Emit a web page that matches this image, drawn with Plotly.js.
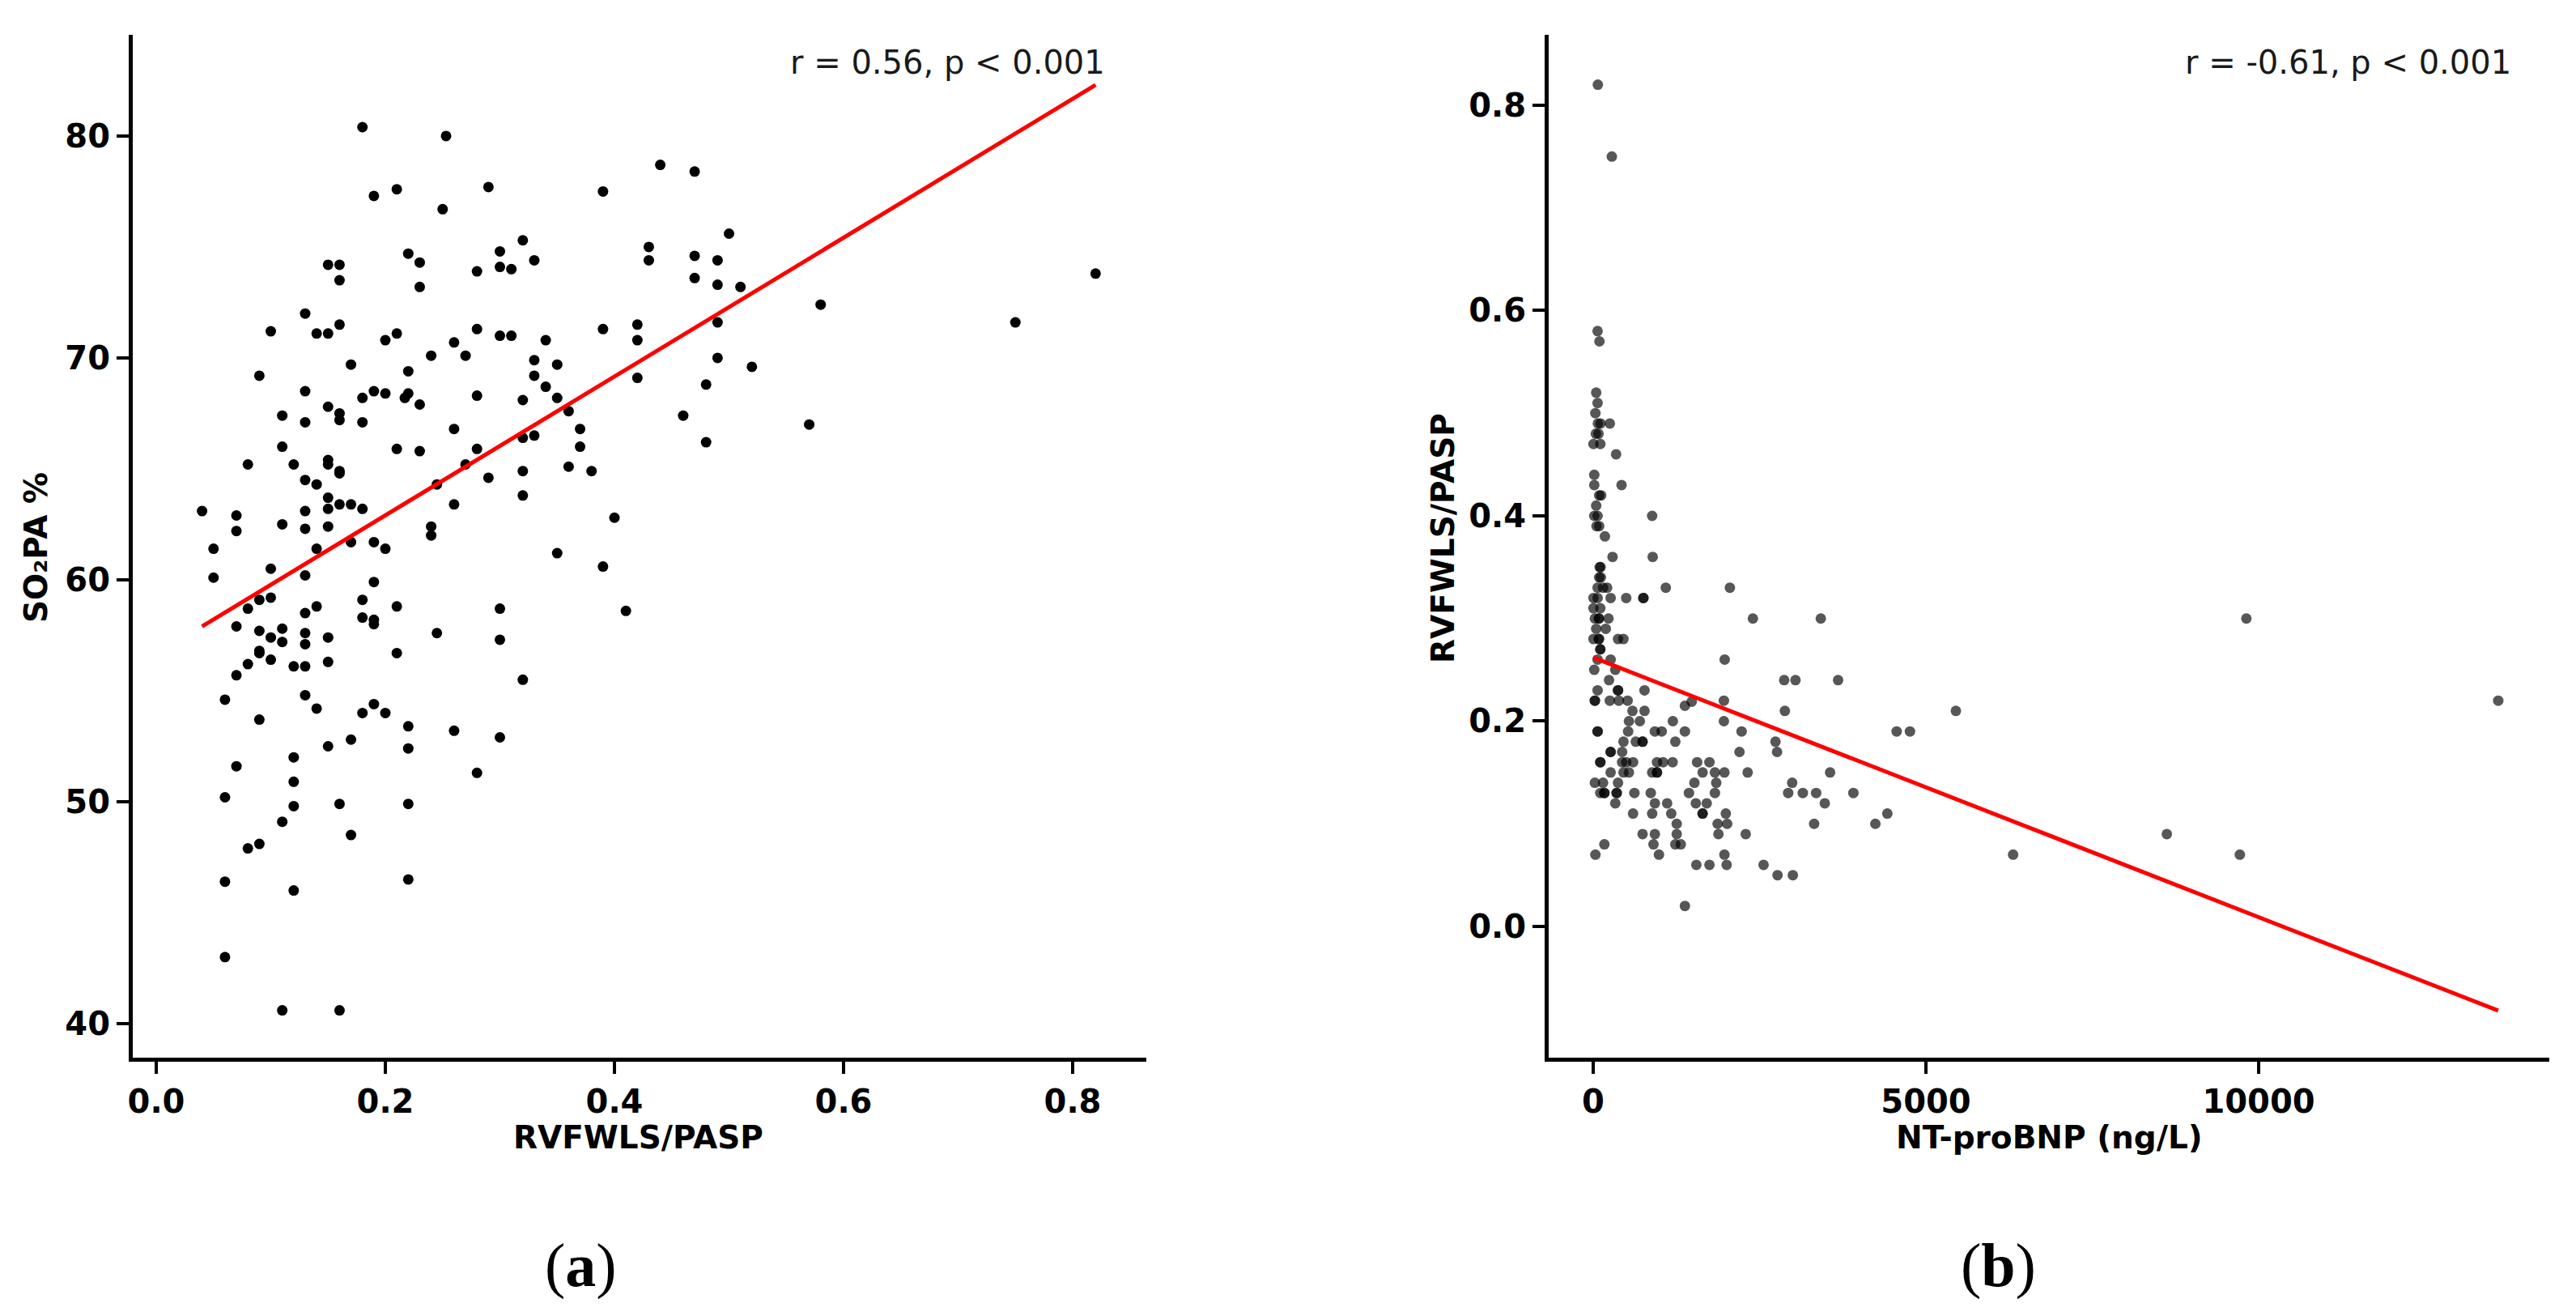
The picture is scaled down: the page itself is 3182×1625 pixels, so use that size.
<!DOCTYPE html>
<html>
<head>
<meta charset="utf-8">
<script src="https://cdn.plot.ly/plotly-3.0.1.min.js"></script>
<style>
  html, body { margin: 0; padding: 0; background: #fff; }
  #chart { width: 3182px; height: 1625px; }
</style>
</head>
<body>
<div id="chart"></div>
<script>
// panel (a): RVFWLS/PASP vs SO2PA %
const ratioA = [
  0.18, 0.253, 0.44, 0.47, 0.29, 0.21, 0.19, 0.39, 0.25, 0.50,
  0.32, 0.43, 0.30, 0.22, 0.47, 0.33, 0.49, 0.43, 0.23, 0.15,
  0.16, 0.30, 0.31, 0.28, 0.82, 0.47, 0.16, 0.49, 0.23, 0.51,
  0.13, 0.58, 0.75, 0.49, 0.16, 0.42, 0.10, 0.14, 0.15, 0.21,
  0.28, 0.39, 0.30, 0.31, 0.20, 0.42, 0.34, 0.26, 0.27, 0.24,
  0.49, 0.33, 0.17, 0.35, 0.52, 0.22, 0.09, 0.33, 0.42, 0.48,
  0.34, 0.13, 0.19, 0.20, 0.22, 0.217, 0.18, 0.28, 0.35, 0.32,
  0.23, 0.36, 0.16, 0.46, 0.11, 0.15, 0.16, 0.13, 0.18, 0.57,
  0.37, 0.26, 0.33, 0.32, 0.48, 0.11, 0.37, 0.21, 0.28, 0.23,
  0.15, 0.12, 0.08, 0.15, 0.27, 0.36, 0.16, 0.16, 0.32, 0.38,
  0.29, 0.13, 0.14, 0.245, 0.32, 0.15, 0.16, 0.17, 0.26, 0.15,
  0.18, 0.13, 0.04, 0.07, 0.40, 0.11, 0.24, 0.15, 0.07, 0.13,
  0.24, 0.17, 0.19, 0.05, 0.14, 0.20, 0.35, 0.10, 0.39, 0.05,
  0.13, 0.19, 0.10, 0.09, 0.18, 0.14, 0.08, 0.21, 0.30, 0.41,
  0.13, 0.18, 0.19, 0.19, 0.07, 0.11, 0.09, 0.13, 0.245, 0.10,
  0.15, 0.30, 0.11, 0.13, 0.09, 0.09, 0.21, 0.08, 0.10, 0.12,
  0.13, 0.15, 0.07, 0.32, 0.13, 0.06, 0.14, 0.19, 0.18, 0.20,
  0.09, 0.22, 0.26, 0.30, 0.17, 0.15, 0.22, 0.12, 0.07, 0.28,
  0.12, 0.06, 0.12, 0.16, 0.22, 0.11, 0.17, 0.09, 0.08, 0.22,
  0.06, 0.12, 0.06, 0.11, 0.16
];
const so2pa = [
  80.4, 80.0, 78.7, 78.4, 77.7, 77.6, 77.3, 77.5, 76.7, 75.6,
  75.3, 75.0, 74.8, 74.7, 74.6, 74.4, 74.4, 74.4, 74.3, 74.2,
  74.2, 74.1, 74.0, 73.9, 73.8, 73.6, 73.5, 73.3, 73.2, 73.2,
  72.0, 72.4, 71.6, 71.6, 71.5, 71.5, 71.2, 71.1, 71.1, 71.1,
  71.3, 71.3, 71.0, 71.0, 70.8, 70.8, 70.8, 70.7, 70.1, 70.1,
  70.0, 69.9, 69.7, 69.7, 69.6, 69.4, 69.2, 69.2, 69.1, 68.8,
  68.7, 68.5, 68.5, 68.4, 68.4, 68.2, 68.2, 68.3, 68.2, 68.1,
  67.9, 67.6, 67.5, 67.4, 67.4, 67.8, 67.2, 67.1, 67.1, 67.0,
  66.8, 66.8, 66.5, 66.4, 66.2, 66.0, 66.0, 65.9, 65.9, 65.8,
  65.4, 65.2, 65.2, 65.2, 65.2, 65.1, 64.9, 64.8, 64.9, 64.9,
  64.6, 64.5, 64.3, 64.3, 63.8, 63.7, 63.4, 63.4, 63.4, 63.2,
  63.2, 63.1, 63.1, 62.9, 62.8, 62.5, 62.4, 62.4, 62.2, 62.3,
  62.0, 61.7, 61.7, 61.4, 61.4, 61.4, 61.2, 60.5, 60.6, 60.1,
  60.2, 59.9, 59.2, 59.1, 59.1, 58.8, 58.7, 58.8, 58.7, 58.6,
  58.5, 58.3, 58.2, 58.0, 57.9, 57.8, 57.7, 57.6, 57.6, 57.4,
  57.4, 57.3, 57.2, 57.1, 56.8, 56.7, 56.7, 56.2, 56.4, 56.1,
  56.1, 56.3, 55.7, 55.5, 54.8, 54.6, 54.2, 54.4, 54.0, 54.0,
  53.7, 53.4, 53.2, 52.9, 52.8, 52.5, 52.4, 52.0, 51.6, 51.3,
  50.9, 50.2, 49.8, 49.9, 49.9, 49.1, 48.5, 48.1, 47.9, 46.5,
  46.4, 46.0, 43.0, 40.6, 40.6
];
const fitAx = [0.04, 0.82];
const fitAy = [57.9, 82.3];

// panel (b): NT-proBNP vs RVFWLS/PASP
const ntprobnp = [
  70, 280, 66, 94, 45, 66, 33, 70, 110, 250,
  40, 80, 4, 107, 344, 16, 16, 426, 90, 120,
  45, 16, 66, 886, 50, 90, 176, 291, 894, 98,
  110, 115, 90, 66, 148, 209, 1091, 2054, 4, 66,
  262, 496, 754, 754, 4, 107, 25, 86, 86, 230,
  2400, 3420, 9815, 45, 189, 4, 86, 86, 373, 455,
  107, 107, 66, 262, 1976, 16, 332, 238, 2870, 3040,
  3680, 66, 373, 373, 771, 25, 25, 250, 385, 517,
  1964, 13600, 1378, 1480, 590, 771, 2880, 5450, 537, 701,
  1197, 1964, 66, 66, 525, 927, 1029, 1378, 2230, 4560,
  4760, 455, 640, 742, 742, 1234, 2739, 262, 262, 435,
  2198, 2763, 107, 107, 435, 496, 599, 959, 1050, 1193,
  1562, 1747, 262, 455, 537, 886, 959, 959, 1644, 1829,
  1972, 2321, 3560, 25, 148, 373, 1521, 1849, 2990, 107,
  168, 168, 353, 353, 619, 865, 1439, 1829, 2930, 3150,
  3350, 3910, 332, 927, 1111, 1542, 1706, 3480, 599, 886,
  1173, 1644, 1644, 1993, 4420, 1255, 1870, 2013, 3320, 4240,
  742, 927, 1255, 1882, 2292, 8620, 168, 906, 1234, 1316,
  33, 988, 1972, 6310, 9717, 1550, 1747, 2005, 2560, 2770,
  3000, 1378
];
const ratioB = [
  0.82, 0.75, 0.58, 0.57, 0.52, 0.51, 0.50, 0.49, 0.49, 0.49,
  0.48, 0.48, 0.47, 0.47, 0.46, 0.44, 0.43, 0.43, 0.42, 0.42,
  0.41, 0.40, 0.40, 0.40, 0.39, 0.39, 0.38, 0.36, 0.36, 0.35,
  0.35, 0.34, 0.34, 0.33, 0.33, 0.33, 0.33, 0.33, 0.32, 0.32,
  0.32, 0.32, 0.32, 0.32, 0.31, 0.31, 0.30, 0.30, 0.30, 0.30,
  0.30, 0.30, 0.30, 0.29, 0.29, 0.28, 0.28, 0.28, 0.28, 0.28,
  0.27, 0.27, 0.26, 0.26, 0.26, 0.25, 0.25, 0.24, 0.24, 0.24,
  0.24, 0.23, 0.23, 0.23, 0.23, 0.22, 0.22, 0.22, 0.22, 0.22,
  0.22, 0.22, 0.215, 0.219, 0.21, 0.21, 0.21, 0.21, 0.20, 0.20,
  0.20, 0.20, 0.19, 0.19, 0.19, 0.19, 0.19, 0.19, 0.19, 0.19,
  0.19, 0.18, 0.18, 0.18, 0.18, 0.18, 0.18, 0.17, 0.17, 0.17,
  0.17, 0.17, 0.16, 0.16, 0.16, 0.16, 0.16, 0.16, 0.16, 0.16,
  0.16, 0.16, 0.15, 0.15, 0.15, 0.15, 0.15, 0.15, 0.15, 0.15,
  0.15, 0.15, 0.15, 0.14, 0.14, 0.14, 0.14, 0.14, 0.14, 0.13,
  0.13, 0.13, 0.13, 0.13, 0.13, 0.13, 0.13, 0.13, 0.13, 0.13,
  0.13, 0.13, 0.12, 0.12, 0.12, 0.12, 0.12, 0.12, 0.11, 0.11,
  0.11, 0.11, 0.11, 0.11, 0.11, 0.10, 0.10, 0.10, 0.10, 0.10,
  0.09, 0.09, 0.09, 0.09, 0.09, 0.09, 0.08, 0.08, 0.08, 0.08,
  0.07, 0.07, 0.07, 0.07, 0.07, 0.06, 0.06, 0.06, 0.06, 0.05,
  0.05, 0.02
];
const fitBx = [0, 13600];
const fitBy = [0.262, -0.082];

const TICK_FONT = {family: "DejaVu Sans", size: 40, color: "#000", weight: "bold"};
const TITLE_FONT = {family: "DejaVu Sans", size: 39, color: "#000", weight: "bold"};
const NOTE_FONT = {family: "DejaVu Sans", size: 40, color: "#1a1a1a"};
const PANEL_FONT = {family: "Liberation Serif", size: 76, color: "#000"};

const traces = [
  {
    x: ratioA, y: so2pa, type: "scatter", mode: "markers",
    marker: {size: 13, color: "#000"},
    xaxis: "x", yaxis: "y", hoverinfo: "x+y"
  },
  {
    x: fitAx, y: fitAy, type: "scatter", mode: "lines",
    line: {color: "#ff0000", width: 5},
    xaxis: "x", yaxis: "y", hoverinfo: "skip"
  },
  {
    x: ntprobnp, y: ratioB, type: "scatter", mode: "markers",
    marker: {size: 13, color: "#000", opacity: 0.66},
    xaxis: "x2", yaxis: "y2", hoverinfo: "x+y"
  },
  {
    x: fitBx, y: fitBy, type: "scatter", mode: "lines",
    line: {color: "#ff0000", width: 5},
    xaxis: "x2", yaxis: "y2", hoverinfo: "skip"
  }
];

// common look of the axes: only left/bottom spines, outside ticks
function axisStyle(extra) {
  return Object.assign({
    showline: true, linecolor: "#000", linewidth: 5,
    showgrid: false, zeroline: false,
    ticks: "outside", ticklen: 15, tickwidth: 4, tickcolor: "#000",
    tickfont: TICK_FONT, fixedrange: true
  }, extra);
}

const W = 3182, H = 1625;
const px = v => v / W;          // pixel -> paper x
const py = v => 1 - v / H;      // pixel -> paper y

const layout = {
  width: W, height: H,
  margin: {l: 0, r: 0, t: 0, b: 0},
  paper_bgcolor: "#fff", plot_bgcolor: "#fff",
  showlegend: false,
  xaxis: axisStyle({
    domain: [px(164), px(1416)], range: [-0.0205, 0.8643],
    tickvals: [0, 0.2, 0.4, 0.6, 0.8], tickformat: ".1f", anchor: "y"
  }),
  yaxis: axisStyle({
    domain: [py(1306), py(43)], range: [38.467, 84.56],
    tickvals: [40, 50, 60, 70, 80], anchor: "x"
  }),
  xaxis2: axisStyle({
    domain: [px(1913), px(3149)], range: [-669, 14367],
    tickvals: [0, 5000, 10000], tickformat: "d", anchor: "y2"
  }),
  yaxis2: axisStyle({
    domain: [py(1306), py(43)], range: [-0.1278, 0.8686],
    tickvals: [0, 0.2, 0.4, 0.6, 0.8], tickformat: ".1f", anchor: "x2"
  }),
  annotations: [
    {text: "r = 0.56, p < 0.001", xref: "paper", yref: "paper",
     x: px(1367), y: py(77), xanchor: "right", yanchor: "middle",
     showarrow: false, font: NOTE_FONT},
    {text: "r = -0.61, p < 0.001", xref: "paper", yref: "paper",
     x: px(3104), y: py(77), xanchor: "right", yanchor: "middle",
     showarrow: false, font: NOTE_FONT},
    {text: "RVFWLS/PASP", xref: "paper", yref: "paper",
     x: px(788), y: py(1404), xanchor: "center", yanchor: "middle",
     showarrow: false, font: TITLE_FONT},
    {text: "NT-proBNP (ng/L)", xref: "paper", yref: "paper",
     x: px(2531), y: py(1404), xanchor: "center", yanchor: "middle",
     showarrow: false, font: TITLE_FONT},
    {text: "SO₂PA %", xref: "paper", yref: "paper", textangle: -90,
     x: px(45), y: py(676), xanchor: "center", yanchor: "middle",
     showarrow: false, font: TITLE_FONT},
    {text: "RVFWLS/PASP", xref: "paper", yref: "paper", textangle: -90,
     x: px(1782), y: py(664), xanchor: "center", yanchor: "middle",
     showarrow: false, font: TITLE_FONT},
    {text: "(<b>a</b>)", xref: "paper", yref: "paper",
     x: px(717), y: py(1562), xanchor: "center", yanchor: "middle",
     showarrow: false, font: PANEL_FONT},
    {text: "(<b>b</b>)", xref: "paper", yref: "paper",
     x: px(2468), y: py(1562), xanchor: "center", yanchor: "middle",
     showarrow: false, font: PANEL_FONT}
  ]
};

Plotly.newPlot("chart", traces, layout, {displayModeBar: false, staticPlot: true});
</script>
</body>
</html>
